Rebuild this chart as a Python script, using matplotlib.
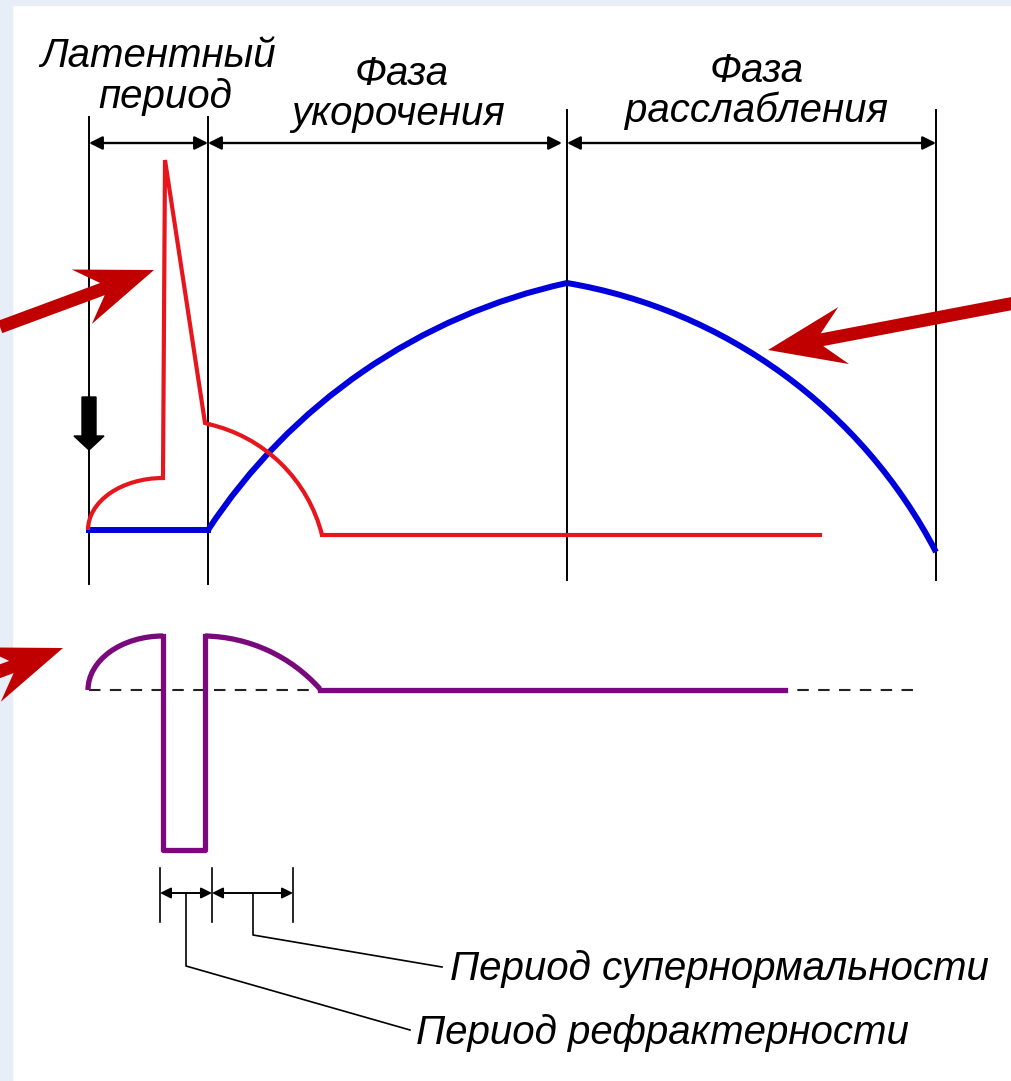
import numpy as np
import matplotlib.pyplot as plt
from matplotlib.patches import Arc, Polygon, Rectangle, FancyArrow

W, H = 1012, 1081

# phase borders (px in the picture)
phase_x = [89, 208, 567, 936]
phase_top = [117, 117, 110, 110]
phase_bottom = [584, 584, 580, 580]
phase_arrow_y = 143
phase_arrow_x = [(89, 208), (208, 562), (567, 936)]

label_lines = ['Латентный', 'период', 'Фаза', 'укорочения', 'Фаза', 'расслабления']
label_x = [158, 165, 402, 398, 757, 757]
label_y = [56, 97, 74, 114, 71, 111]

# action potential (red)
ap_foot_center = (163, 530)
ap_foot_size = (150, 104)
ap_spike = [(163, 478), (165, 160), (205, 423), (208, 424)]
ap_tail = [(208, 424), (265, 450), (322, 535)]
ap_rest = [(322, 535), (820, 535)]

# contraction (blue)
mech_flat = [(89, 530), (208, 530)]
mech_rise = [(208, 530), (400, 348), (567, 283)]
mech_fall = [(567, 283), (800, 387), (936, 552)]

# excitability (purple)
exc_base_y = 690
exc_base_x = (89, 915)
exc_foot_center = (163, 690)
exc_foot_size = (150, 108)
exc_drop = [(163, 636), (163, 850), (205, 850), (205, 636)]
exc_tail = [(205, 636), (267, 650), (320, 689)]
exc_rest = [(320, 690), (785, 690)]

# bottom period marks
period_x = [160, 212, 293]
period_y = (868, 922)
period_arrow_y = 893
leader_refr = [(186, 893), (186, 966), (410, 1030)]
leader_super = [(253, 893), (253, 935), (442, 967)]
bottom_texts = ['Период супернормальности', 'Период рефрактерности']
bottom_x = [450, 416]
bottom_y = [969, 1033]

# big pointer arrows: (tail, tip)
pointers = [((0, 327), (154, 270)),
            ((1020, 302), (768, 350)),
            ((-100, 708), (63, 648))]

RED = '#e6161c'
BLUE = '#0000dc'
PURPLE = '#7a0a7c'
DARKRED = '#c00000'
FONT = dict(family='Liberation Sans', style='italic', fontsize=29, color='black')


def arc_through(p0, p1, p2, **kw):
    (x0, y0), (x1, y1), (x2, y2) = p0, p1, p2
    A = 2 * np.array([[x1 - x0, y1 - y0], [x2 - x1, y2 - y1]], dtype=float)
    b = np.array([x1**2 - x0**2 + y1**2 - y0**2, x2**2 - x1**2 + y2**2 - y1**2], dtype=float)
    cx, cy = np.linalg.solve(A, b)
    r = np.hypot(x0 - cx, y0 - cy)
    a0, a1, a2 = [np.degrees(np.arctan2(y - cy, x - cx)) % 360 for x, y in (p0, p1, p2)]
    if (a1 - a0) % 360 < (a2 - a0) % 360:
        t1, t2 = a0, a2
    else:
        t1, t2 = a2, a0
    return Arc((cx, cy), 2 * r, 2 * r, theta1=t1, theta2=t2, **kw)


def pointer(tail, tip, head_len=77, head_half=29, notch=55, shaft_half=6.5):
    tail, tip = np.array(tail, float), np.array(tip, float)
    u = (tip - tail) / np.hypot(*(tip - tail))
    n = np.array([-u[1], u[0]])
    pts = [tip,
           tip - head_len * u + head_half * n,
           tip - notch * u + shaft_half * n,
           tail + shaft_half * n,
           tail - shaft_half * n,
           tip - notch * u - shaft_half * n,
           tip - head_len * u - head_half * n]
    return Polygon(pts, closed=True, facecolor=DARKRED, edgecolor='none', zorder=6)


def xy(pts):
    return [p[0] for p in pts], [p[1] for p in pts]


fig = plt.figure(figsize=(W / 100, H / 100), dpi=100, facecolor='white')
ax = fig.add_axes([0, 0, 1, 1])
ax.set_xlim(0, W)
ax.set_ylim(H, 0)
ax.axis('off')

# light frame strips
ax.add_patch(Rectangle((0, 0), 12, H, color='#e8eef8', zorder=0))
ax.add_patch(Rectangle((0, 0), W, 5, color='#e8eef8', zorder=0))

# phase borders and arrows
for x, t, b in zip(phase_x, phase_top, phase_bottom):
    ax.plot([x, x], [t, b], color='black', lw=1.4, zorder=2)
for x0, x1 in phase_arrow_x:
    ax.annotate('', xy=(x1, phase_arrow_y), xytext=(x0, phase_arrow_y),
                arrowprops=dict(arrowstyle='<|-|>', lw=1.7, color='black',
                                mutation_scale=20, shrinkA=0, shrinkB=0))
for s, x, y in zip(label_lines, label_x, label_y):
    ax.text(x, y, s, ha='center', va='center', **FONT)

# stimulus mark
ax.add_patch(FancyArrow(89, 397, 0, 53, width=14, head_width=30, head_length=14,
                        length_includes_head=True, color='black', zorder=5))

# red action potential
ax.add_patch(Arc(ap_foot_center, *ap_foot_size, theta1=180, theta2=270,
                 color=RED, lw=3, zorder=4))
ax.plot(*xy(ap_spike), color=RED, lw=3, zorder=4, solid_joinstyle='miter')
ax.add_patch(arc_through(*ap_tail, color=RED, lw=3, zorder=4))
ax.plot(*xy(ap_rest), color=RED, lw=3, zorder=4)

# blue contraction
ax.plot(*xy(mech_flat), color=BLUE, lw=4.3, zorder=3)
ax.add_patch(arc_through(*mech_rise, color=BLUE, lw=4.3, zorder=3))
ax.add_patch(arc_through(*mech_fall, color=BLUE, lw=4.3, zorder=3))

# excitability
ax.plot(exc_base_x, [exc_base_y, exc_base_y], color='#222222', lw=1.5,
        linestyle=(0, (5.5, 4.5)), zorder=2)
ax.add_patch(Arc(exc_foot_center, *exc_foot_size, theta1=180, theta2=270,
                 color=PURPLE, lw=3.8, zorder=4))
ax.plot(*xy(exc_drop), color=PURPLE, lw=3.8, zorder=4)
ax.add_patch(arc_through(*exc_tail, color=PURPLE, lw=3.8, zorder=4))
ax.plot(*xy(exc_rest), color=PURPLE, lw=3.8, zorder=3)

# refractory / supernormal marks
for x in period_x:
    ax.plot([x, x], period_y, color='black', lw=1.2)
for x0, x1 in zip(period_x[:-1], period_x[1:]):
    ax.annotate('', xy=(x1, period_arrow_y), xytext=(x0, period_arrow_y),
                arrowprops=dict(arrowstyle='<|-|>', lw=1.4, color='black',
                                mutation_scale=16, shrinkA=0, shrinkB=0))
ax.plot(*xy(leader_refr), color='black', lw=1.2)
ax.plot(*xy(leader_super), color='black', lw=1.2)
for s, x, y in zip(bottom_texts, bottom_x, bottom_y):
    ax.text(x, y, s, ha='left', va='center', **FONT)

for tail, tip in pointers:
    ax.add_patch(pointer(tail, tip))

fig.savefig('out.png', dpi=100, facecolor='white')
